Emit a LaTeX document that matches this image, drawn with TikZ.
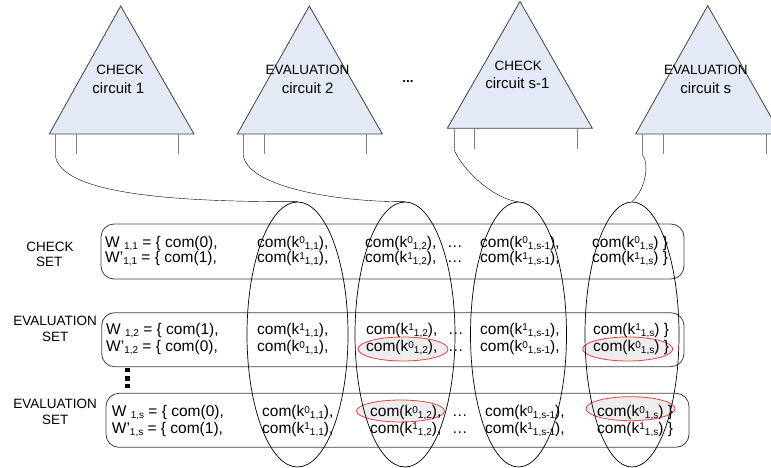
\documentclass[tikz,border=0pt]{standalone}
\usepackage{fontspec}
\setmainfont{Liberation Sans}
\usepackage{tikz}
\usetikzlibrary{shapes.geometric}

\definecolor{trifill}{HTML}{E4EAF5}
\definecolor{lineg}{HTML}{404040}
\definecolor{markred}{HTML}{E8413F}
\definecolor{markfill}{HTML}{EDEDED}

\newcommand\supx[1]{\raisebox{3.5pt}{\fontsize{10}{10}\selectfont #1}}
\newcommand\subx[1]{\raisebox{-2.2pt}{\fontsize{10}{10}\selectfont #1}}

\begin{document}
\begin{tikzpicture}[x=1pt,y=1pt]
\tikzstyle{every node}+=[inner sep=0pt]
\tikzstyle{cell}=[anchor=base west, font=\fontsize{15.5}{17}\selectfont]
\tikzstyle{head}=[anchor=base, font=\fontsize{13.5}{16}\selectfont]
\tikzstyle{circ}=[anchor=base, font=\fontsize{15}{17}\selectfont]
\tikzstyle{setbox}=[draw=lineg, line width=0.8pt, rounded corners=13pt]
\tikzstyle{ring}=[draw=black, line width=0.7pt, ellipse, minimum height=265pt]
\tikzstyle{keymark}=[draw=markred, fill=markfill, line width=0.8pt, ellipse]
\useasboundingbox (0,0) rectangle (771,-468);
\clip (0,0) rectangle (771,-468);
% circuits
\draw [lineg, fill=trifill, line width=0.8pt] (120.7,-6) -- (49.3,-134) -- (194,-134) -- cycle;
\draw [lineg, fill=trifill, line width=0.8pt] (309.3,-6) -- (237.3,-134) -- (382.3,-134) -- cycle;
\draw [lineg, fill=trifill, line width=0.8pt] (520,-1.5) -- (447.3,-128.3) -- (592.3,-128.3) -- cycle;
\draw [lineg, fill=trifill, line width=0.8pt] (707.7,-5.7) -- (635.7,-134) -- (780.7,-134) -- cycle;
\node [head] (t1a) at (120,-75) {CHECK};
\node [circ] (t1b) at (118.3,-94) {circuit 1};
\node [head] (t2a) at (307.5,-75) {EVALUATION};
\node [circ] (t2b) at (307.7,-94) {circuit 2};
\node [head] (t3a) at (518.3,-70.7) {CHECK};
\node [circ] (t3b) at (517.5,-89) {circuit s-1};
\node [head] (t4a) at (705.8,-75) {EVALUATION};
\node [circ] (t4b) at (705.8,-93.5) {circuit s};
\node [head, font=\fontsize{13.5}{16}\selectfont\bfseries] (tdots) at (408,-83) {...};
% wires
\coordinate (p1) at (55.3,-154.3);
\coordinate (p2) at (243.3,-154.3);
\coordinate (p3) at (454,-149.3);
\coordinate (p4) at (642.3,-154.3);
\draw [gray] (55.3,-134) -- (p1);
\draw [gray] (76,-134) -- (76,-154.3);
\draw [gray] (177.7,-134) -- (177.7,-154.3);
\draw [gray] (243.3,-134) -- (p2);
\draw [gray] (264,-134) -- (264,-154.3);
\draw [gray] (366,-134) -- (366,-154.3);
\draw [gray] (454,-128.3) -- (p3);
\draw [gray] (474.3,-128.3) -- (474.3,-149.3);
\draw [gray] (576.7,-128.3) -- (576.7,-149.3);
\draw [gray] (642.3,-134) -- (p4);
\draw [gray] (662.7,-134) -- (662.7,-154.3);
\draw [gray] (765.7,-134) -- (765.7,-154.3);
% sets
\node [setbox, minimum width=583pt, minimum height=55pt] (b1) at (392.5,-251.5) {};
\node [setbox, minimum width=582.3pt, minimum height=54pt] (b2) at (392.8,-339.7) {};
\node [setbox, minimum width=583pt, minimum height=54pt] (b3) at (397.5,-420.3) {};
\node [head] (s1a) at (50,-251) {CHECK};
\node [head] (s1b) at (49.2,-266.7) {SET};
\node [head] (s2a) at (55.2,-325) {EVALUATION};
\node [head] (s2b) at (55.3,-341) {SET};
\node [head] (s3a) at (55.2,-408.3) {EVALUATION};
\node [head] (s3b) at (55.3,-424.3) {SET};
\fill (125.2,-367.8) rectangle (130.2,-372.2);
\fill (125.2,-376.1) rectangle (130.2,-380.5);
\fill (125.2,-383.8) rectangle (130.2,-388.2);
% opened keys
\node [keymark, minimum width=90pt, minimum height=24pt] (m1) at (403,-349) {};
\node [keymark, minimum width=90pt, minimum height=24pt] (m2) at (627.7,-349) {};
\node [keymark, minimum width=88pt, minimum height=22pt] (m3) at (400.5,-411) {};
\node [keymark, minimum width=89pt, minimum height=24pt] (m4) at (630.5,-408.7) {};
% row 1
\node [cell] (r1t1) at (105,-247) {W \subx{1,1} = \{ com(0),};
\node [cell] (r1t2) at (257,-247) {com(k\supx{0}\subx{1,1}),};
\node [cell] (r1t3) at (365,-247) {com(k\supx{0}\subx{1,2}),};
\node [cell] (r1t4) at (447,-247) {\ldots};
\node [cell] (r1t5) at (480,-247) {com(k\supx{0}\subx{1,s-1}),};
\node [cell] (r1t6) at (592,-247) {com(k\supx{0}\subx{1,s}) \}};
\node [cell] (r1b1) at (105,-262.5) {W'\subx{1,1} = \{ com(1),};
\node [cell] (r1b2) at (257,-262.5) {com(k\supx{1}\subx{1,1}),};
\node [cell] (r1b3) at (365,-262.5) {com(k\supx{1}\subx{1,2}),};
\node [cell] (r1b4) at (447,-262.5) {\ldots};
\node [cell] (r1b5) at (480,-262.5) {com(k\supx{1}\subx{1,s-1}),};
\node [cell] (r1b6) at (592,-262.5) {com(k\supx{1}\subx{1,s}) \}};
% row 2
\node [cell] (r2t1) at (106,-334.3) {W \subx{1,2} = \{ com(1),};
\node [cell] (r2t2) at (257,-334.3) {com(k\supx{1}\subx{1,1}),};
\node [cell] (r2t3) at (366,-334.3) {com(k\supx{1}\subx{1,2}),};
\node [cell] (r2t4) at (448,-334.3) {\ldots};
\node [cell] (r2t5) at (480,-334.3) {com(k\supx{1}\subx{1,s-1}),};
\node [cell] (r2t6) at (593,-334.3) {com(k\supx{1}\subx{1,s}) \}};
\node [cell] (r2b1) at (106,-351.7) {W'\subx{1,2} = \{ com(0),};
\node [cell] (r2b2) at (257,-351.7) {com(k\supx{0}\subx{1,1}),};
\node [cell] (r2b3) at (366,-351.7) {com(k\supx{0}\subx{1,2}),};
\node [cell] (r2b4) at (448,-351.7) {\ldots};
\node [cell] (r2b5) at (480,-351.7) {com(k\supx{0}\subx{1,s-1}),};
\node [cell] (r2b6) at (593,-351.7) {com(k\supx{0}\subx{1,s}) \}};
% row 3
\node [cell] (r3t1) at (111.7,-416.7) {W \subx{1,s} = \{ com(0),};
\node [cell] (r3t2) at (262,-416.7) {com(k\supx{0}\subx{1,1}),};
\node [cell] (r3t3) at (370,-416.7) {com(k\supx{0}\subx{1,2}),};
\node [cell] (r3t4) at (452,-416.7) {\ldots};
\node [cell] (r3t5) at (485,-416.7) {com(k\supx{0}\subx{1,s-1}),};
\node [cell] (r3t6) at (597,-416.7) {com(k\supx{0}\subx{1,s}) \}};
\node [cell] (r3b1) at (111.7,-433.3) {W'\subx{1,s} = \{ com(1),};
\node [cell] (r3b2) at (262,-433.3) {com(k\supx{1}\subx{1,1}),};
\node [cell] (r3b3) at (370,-433.3) {com(k\supx{1}\subx{1,2}),};
\node [cell] (r3b4) at (452,-433.3) {\ldots};
\node [cell] (r3b5) at (485,-433.3) {com(k\supx{1}\subx{1,s-1}),};
\node [cell] (r3b6) at (597,-433.3) {com(k\supx{1}\subx{1,s}) \}};
% key columns
\node [ring, minimum width=101pt] (e1) at (297.5,-334.5) {};
\node [ring, minimum width=100pt] (e2) at (405,-334.5) {};
\node [ring, minimum width=96pt] (e3) at (518.5,-334.5) {};
\node [ring, minimum width=94pt] (e4) at (632,-334.5) {};
\draw (p1) .. controls (58,-195) and (180,-202) .. (e1.north);
\draw (p2) .. controls (245,-185) and (330,-202) .. (e2.north);
\draw (p3) .. controls (462,-170) and (495,-200) .. (e3.north);
\draw (p4) .. controls (650,-165) and (645,-190) .. (e4.north);
\end{tikzpicture}
\end{document}
